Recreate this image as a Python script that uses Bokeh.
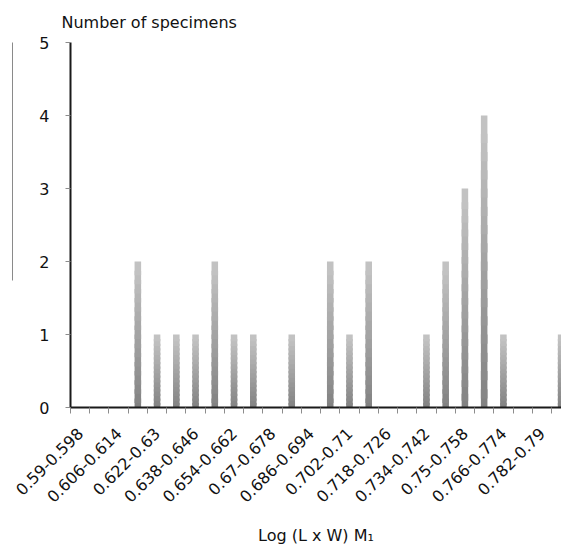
import math
from bokeh.plotting import figure
from bokeh.models import Range1d, FixedTicker, LinearAxis, ColumnDataSource
from bokeh.embed import file_html
from bokeh.resources import INLINE

# ---- data ----
bin_labels = ["0.59-0.598", "0.598-0.606", "0.606-0.614", "0.614-0.622", "0.622-0.63",
              "0.63-0.638", "0.638-0.646", "0.646-0.654", "0.654-0.662", "0.662-0.67",
              "0.67-0.678", "0.678-0.686", "0.686-0.694", "0.694-0.702", "0.702-0.71",
              "0.71-0.718", "0.718-0.726", "0.726-0.734", "0.734-0.742", "0.742-0.75",
              "0.75-0.758", "0.758-0.766", "0.766-0.774", "0.774-0.782", "0.782-0.79",
              "0.79-0.798"]
counts = [0, 0, 0, 2, 1, 1, 1, 2, 1, 1, 0, 1, 0, 2, 1, 2, 0, 0, 1, 2, 3, 4, 1, 0, 0, 1]
y_ticks = [0, 1, 2, 3, 4, 5]
y_title = "Number of specimens"
x_title = "Log (L x W) M\u2081"

FONT = "DejaVu Sans"
n = len(bin_labels)
centers = [i + 0.5 for i in range(n)]

p = figure(width=561, height=549, output_backend="svg", toolbar_location=None,
           x_range=Range1d(0, 25.52), y_range=Range1d(0, 5),
           min_border_left=70, min_border_right=0, min_border_top=42, min_border_bottom=142)
p.outline_line_color = None
p.grid.visible = False
p.background_fill_color = "white"
p.border_fill_color = "white"

# title used as the y-axis caption at the top
p.title.text = y_title
p.title.align = "left"
p.title.offset = -9
p.title.text_font = FONT
p.title.text_font_size = "16px"
p.title.text_font_style = "normal"
p.title.text_color = "#111111"
p.title.standoff = 21

# gradient bars: segments drawn bottom-up, each overlapping the one below
N = 16
xs, bots, tops, cols = [], [], [], []
for k in range(N):
    f = (k + 0.5) / N
    g = int(round(0x80 + (0xc4 - 0x80) * f))
    for xc, c in zip(centers, counts):
        if c <= 0:
            continue
        xs.append(xc)
        bots.append(max(0.0, c * (k - 0.5) / N))
        tops.append(c * (k + 1) / N)
        cols.append("#%02x%02x%02x" % (g, g, g))
src = ColumnDataSource(dict(x=xs, bottom=bots, top=tops, color=cols))
p.vbar(x="x", bottom="bottom", top="top", width=0.34, fill_color="color",
       line_color=None, source=src)

# x axis
xa = p.xaxis[0]
major = [centers[i] for i in range(0, n, 2)]
xa.ticker = FixedTicker(ticks=major, minor_ticks=list(range(n + 1)))
xa.major_label_overrides = {centers[i]: bin_labels[i] for i in range(0, n, 2)}
xa.major_tick_out = 0
xa.major_tick_in = 0
xa.minor_tick_out = 6
xa.minor_tick_in = 0
xa.minor_tick_line_color = "#8c8c8c"
xa.axis_line_color = "#1a1a1a"
xa.axis_line_width = 2
xa.major_label_orientation = math.pi / 4
xa.major_label_text_font = FONT
xa.major_label_text_font_size = "16px"
xa.major_label_text_color = "#111111"
xa.major_label_standoff = 17
xa.axis_label = x_title
xa.axis_label_text_font = FONT
xa.axis_label_text_font_size = "16px"
xa.axis_label_text_font_style = "normal"
xa.axis_label_text_color = "#111111"
xa.axis_label_standoff = 15

# y axis
ya = p.yaxis[0]
ya.ticker = FixedTicker(ticks=y_ticks)
ya.major_tick_out = 5
ya.major_tick_in = 0
ya.minor_tick_out = 0
ya.minor_tick_in = 0
ya.major_tick_line_color = "#8c8c8c"
ya.axis_line_color = "#1a1a1a"
ya.axis_line_width = 2
ya.major_label_text_font = FONT
ya.major_label_text_font_size = "16px"
ya.major_label_text_color = "#111111"
ya.major_label_standoff = 16
ya.axis_label = " "
ya.axis_label_text_font_size = "16px"
ya.axis_label_standoff = 4

# thin gray vertical rule at the far left (edge of the neighbouring panel)
p.extra_y_ranges = {"rule": Range1d(0, 365)}
rule = LinearAxis(y_range_name="rule", bounds=(127, 395))
rule.axis_line_color = "#8a8a8a"
rule.axis_line_width = 1
rule.major_tick_line_color = None
rule.minor_tick_line_color = None
rule.major_label_text_font_size = "0px"
rule.major_label_text_alpha = 0
rule.major_tick_out = 0
rule.minor_tick_out = 0
rule.major_label_standoff = 0
rule.ticker = FixedTicker(ticks=[])
p.add_layout(rule, "left")

open("out.html", "w").write(file_html(p, INLINE))
